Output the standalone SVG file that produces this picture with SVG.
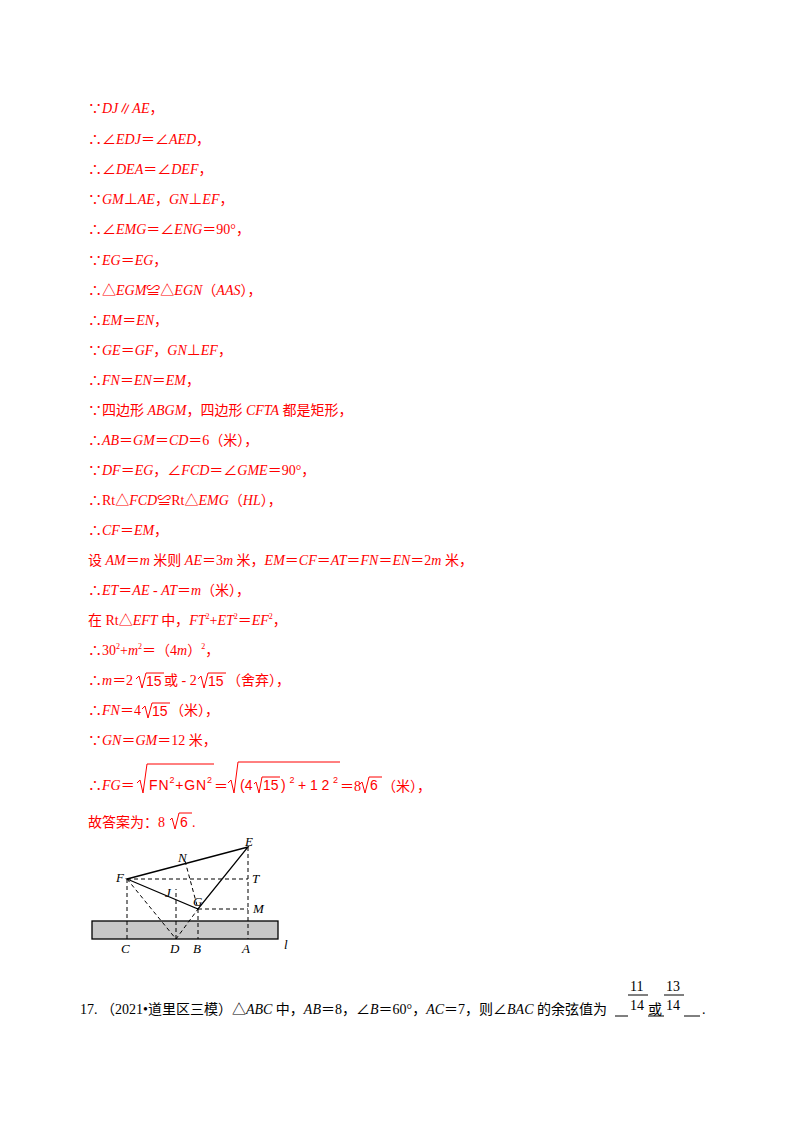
<svg xmlns="http://www.w3.org/2000/svg" width="800" height="1132" viewBox="0 0 800 1132">
<style>
.r{font-family:"Liberation Serif","Noto Sans CJK SC",serif;font-size:14px;fill:#ff0000}
.b{font-family:"Liberation Serif","Noto Sans CJK SC",serif;font-size:14px;fill:#000}
.s{font-family:"Liberation Sans",sans-serif;font-size:14px;fill:#ff0000}
.sq{fill:none;stroke:#ff0000;stroke-width:1}
.l{stroke:#000;stroke-width:1.3;fill:none}
.d{stroke:#000;stroke-width:1;fill:none;stroke-dasharray:4,3}
.lb{font-family:"Liberation Serif",serif;font-style:italic;font-size:13px;fill:#000}
</style>
<rect width="800" height="1132" fill="#fff"/>
<g id="text">
<text class="r" x="88" y="113">∵<tspan font-style="italic">DJ</tspan>∥<tspan font-style="italic">AE</tspan>，</text>
<text class="r" x="88" y="144">∴∠<tspan font-style="italic">EDJ</tspan>＝∠<tspan font-style="italic">AED</tspan>，</text>
<text class="r" x="88" y="174">∴∠<tspan font-style="italic">DEA</tspan>＝∠<tspan font-style="italic">DEF</tspan>，</text>
<text class="r" x="88" y="204">∵<tspan font-style="italic">GM</tspan>⊥<tspan font-style="italic">AE</tspan>，<tspan font-style="italic">GN</tspan>⊥<tspan font-style="italic">EF</tspan>，</text>
<text class="r" x="88" y="234">∴∠<tspan font-style="italic">EMG</tspan>＝∠<tspan font-style="italic">ENG</tspan>＝90°，</text>
<text class="r" x="88" y="265">∵<tspan font-style="italic">EG</tspan>＝<tspan font-style="italic">EG</tspan>，</text>
<text class="r" x="88" y="295">∴△<tspan font-style="italic">EGM</tspan>≌△<tspan font-style="italic">EGN</tspan>（<tspan font-style="italic">AAS</tspan>），</text>
<text class="r" x="88" y="325">∴<tspan font-style="italic">EM</tspan>＝<tspan font-style="italic">EN</tspan>，</text>
<text class="r" x="88" y="355">∵<tspan font-style="italic">GE</tspan>＝<tspan font-style="italic">GF</tspan>，<tspan font-style="italic">GN</tspan>⊥<tspan font-style="italic">EF</tspan>，</text>
<text class="r" x="88" y="385">∴<tspan font-style="italic">FN</tspan>＝<tspan font-style="italic">EN</tspan>＝<tspan font-style="italic">EM</tspan>，</text>
<text class="r" x="88" y="415">∵四边形 <tspan font-style="italic">ABGM</tspan>，四边形 <tspan font-style="italic">CFTA</tspan> 都是矩形，</text>
<text class="r" x="88" y="445">∴<tspan font-style="italic">AB</tspan>＝<tspan font-style="italic">GM</tspan>＝<tspan font-style="italic">CD</tspan>＝6（米），</text>
<text class="r" x="88" y="475">∵<tspan font-style="italic">DF</tspan>＝<tspan font-style="italic">EG</tspan>，∠<tspan font-style="italic">FCD</tspan>＝∠<tspan font-style="italic">GME</tspan>＝90°，</text>
<text class="r" x="88" y="505">∴Rt△<tspan font-style="italic">FCD</tspan>≌Rt△<tspan font-style="italic">EMG</tspan>（<tspan font-style="italic">HL</tspan>），</text>
<text class="r" x="88" y="535">∴<tspan font-style="italic">CF</tspan>＝<tspan font-style="italic">EM</tspan>，</text>
<text class="r" x="88" y="565">设 <tspan font-style="italic">AM</tspan>＝<tspan font-style="italic">m</tspan> 米则 <tspan font-style="italic">AE</tspan>＝3<tspan font-style="italic">m</tspan> 米，<tspan font-style="italic">EM</tspan>＝<tspan font-style="italic">CF</tspan>＝<tspan font-style="italic">AT</tspan>＝<tspan font-style="italic">FN</tspan>＝<tspan font-style="italic">EN</tspan>＝2<tspan font-style="italic">m</tspan> 米，</text>
<text class="r" x="88" y="595">∴<tspan font-style="italic">ET</tspan>＝<tspan font-style="italic">AE</tspan> - <tspan font-style="italic">AT</tspan>＝<tspan font-style="italic">m</tspan>（米），</text>
<text class="r" x="88" y="625">在 Rt△<tspan font-style="italic">EFT</tspan> 中，<tspan font-style="italic">FT</tspan><tspan font-size="8" dy="-6">2</tspan><tspan dy="6">+</tspan><tspan font-style="italic">ET</tspan><tspan font-size="8" dy="-6">2</tspan><tspan dy="6">＝</tspan><tspan font-style="italic">EF</tspan><tspan font-size="8" dy="-6">2</tspan><tspan dy="6">，</tspan></text>
<text class="r" x="88" y="655">∴30<tspan font-size="8" dy="-6">2</tspan><tspan dy="6">+</tspan><tspan font-style="italic">m</tspan><tspan font-size="8" dy="-6">2</tspan><tspan dy="6">＝（4</tspan><tspan font-style="italic">m</tspan>）<tspan font-size="8" dy="-6">2</tspan><tspan dy="6">，</tspan></text>
<text class="r" x="88" y="685">∴<tspan font-style="italic">m</tspan>＝2</text>
<path class="sq" d="M136,679 L139,676 L142,688 L146,673 L164,673"/>
<text class="s" x="146" y="686">15</text>
<text class="r" x="164" y="685">或 - 2</text>
<path class="sq" d="M198,679 L201,676 L204,688 L208,673 L226,673"/>
<text class="s" x="208" y="686">15</text>
<text class="r" x="227" y="685">（舍弃），</text>
<text class="r" x="88" y="715">∴<tspan font-style="italic">FN</tspan>＝4</text>
<path class="sq" d="M142,709 L145,706 L148,718 L152,703 L170,703"/>
<text class="s" x="152" y="716">15</text>
<text class="r" x="170" y="715">（米），</text>
<text class="r" x="88" y="745">∵<tspan font-style="italic">GN</tspan>＝<tspan font-style="italic">GM</tspan>＝12 米，</text>
<text class="r" x="88" y="790">∴<tspan font-style="italic">FG</tspan>＝</text>
<path class="sq" d="M137,783 L140,780 L143,793 L147,764 L214,764"/>
<text class="s" x="149" y="790" textLength="63" lengthAdjust="spacing">FN<tspan font-size="9" dy="-7">2</tspan><tspan dy="7">+GN</tspan><tspan font-size="9" dy="-7">2</tspan></text>
<text class="r" x="214" y="791">＝</text>
<path class="sq" d="M228,783 L231,780 L234,793 L238,762 L340,762"/>
<text class="s" x="240" y="790">(4</text>
<path class="sq" d="M254,784 L256,782 L259,793 L262,777 L280,777"/>
<text class="s" x="263" y="790">15</text>
<text class="s" x="281" y="790" textLength="57" lengthAdjust="spacing">)<tspan font-size="9" dy="-7">2</tspan><tspan dy="7">+12</tspan><tspan font-size="9" dy="-7">2</tspan></text>
<text class="r" x="340" y="791">＝8</text>
<path class="sq" d="M360,784 L362,782 L365,793 L369,777 L382,777"/>
<text class="s" x="370" y="790">6</text>
<text class="r" x="382" y="791">（米），</text>
<text class="r" x="88" y="827">故答案为：8</text>
<path class="sq" d="M170,820 L172,818 L175,829 L179,813 L192,813"/>
<text class="s" x="180" y="827">6</text>
<text class="r" x="192" y="827">.</text>
</g>
<g id="figure">
<rect x="92" y="921" width="186" height="18" fill="#c8c8c8" stroke="#000" stroke-width="1.3"/>
<path class="l" d="M127,879 L248,847 L198,909 Z"/>
<path class="d" d="M127,879 L248,879 M127,879 L127,939 M248,847 L248,939 M198,909 L248,909 M198,909 L198,939 M127,879 L176,939 L198,909 M176,939 L176,889 M185,861 L198,909"/>
<text class="lb" x="116" y="882">F</text>
<text class="lb" x="245" y="846">E</text>
<text class="lb" x="178" y="862">N</text>
<text class="lb" x="165" y="897">J</text>
<text class="lb" x="193" y="906">G</text>
<text class="lb" x="252" y="883">T</text>
<text class="lb" x="253" y="913">M</text>
<text class="lb" x="121" y="953">C</text>
<text class="lb" x="170" y="953">D</text>
<text class="lb" x="193" y="953">B</text>
<text class="lb" x="242" y="953">A</text>
<text class="lb" x="284" y="949">l</text>
</g>
<g id="q17">
<text class="b" x="80" y="1014">17. （2021•道里区三模）△<tspan font-style="italic">ABC</tspan> 中，<tspan font-style="italic">AB</tspan>＝8，∠<tspan font-style="italic">B</tspan>＝60°，<tspan font-style="italic">AC</tspan>＝7，则∠<tspan font-style="italic">BAC</tspan> 的余弦值为 </text>
<text class="b" x="630" y="991" font-size="13">11</text>
<line x1="628" y1="995" x2="648" y2="995" stroke="#000"/>
<text class="b" x="630" y="1010" font-size="13">14</text>
<text class="b" x="648" y="1014">或</text>
<text class="b" x="666" y="991" font-size="13">13</text>
<line x1="664" y1="995" x2="684" y2="995" stroke="#000"/>
<text class="b" x="666" y="1010" font-size="13">14</text>
<line x1="615" y1="1016" x2="628" y2="1016" stroke="#000"/>
<line x1="648" y1="1016" x2="664" y2="1016" stroke="#000"/>
<line x1="684" y1="1016" x2="700" y2="1016" stroke="#000"/>
<text class="b" x="702" y="1014">.</text>
</g>
</svg>
